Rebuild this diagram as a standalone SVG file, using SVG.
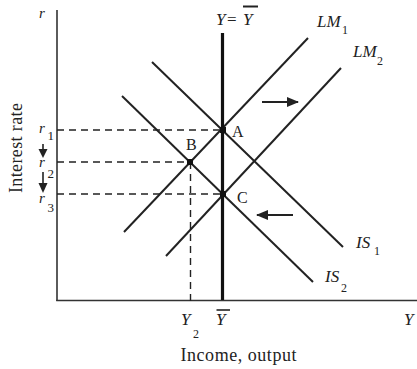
<svg xmlns="http://www.w3.org/2000/svg" width="417" height="369" viewBox="0 0 417 369">
<defs>
<style>
.ax{stroke:#333;stroke-width:1.6;fill:none}
.cv{stroke:#222;stroke-width:2;fill:none}
.dash{stroke:#222;stroke-width:1.4;stroke-dasharray:7 5;fill:none}
.t{font-family:"Liberation Serif",serif;fill:#222}
.i{font-style:italic}
.pt{fill:#111}
.ar{stroke:#222;stroke-width:2}
</style>
<marker id="ah" viewBox="0 0 12 10" refX="11" refY="5" markerWidth="13" markerHeight="10" markerUnits="userSpaceOnUse" orient="auto">
<path d="M0,0 L12,5 L0,10 Z" fill="#222"/>
</marker>
</defs>
<rect width="417" height="369" fill="#fff"/>
<g id="axes">
<line class="ax" x1="57" y1="10" x2="57" y2="301"/>
<line class="ax" x1="56.2" y1="300.5" x2="417" y2="300.5"/>
</g>
<g id="dashed">
<line class="dash" x1="57" y1="130" x2="223" y2="130"/>
<line class="dash" x1="57" y1="162" x2="190" y2="162"/>
<line class="dash" x1="57" y1="194" x2="223" y2="194"/>
<line class="dash" x1="190.5" y1="162" x2="190.5" y2="302"/>
</g>
<g id="curves">
<line id="LM1" class="cv" x1="124" y1="232" x2="308" y2="38"/>
<line id="LM2" class="cv" x1="166" y1="256" x2="341" y2="68"/>
<line id="IS1" class="cv" x1="152" y1="62" x2="343" y2="247"/>
<line id="IS2" class="cv" x1="122" y1="96" x2="313" y2="282"/>
<line id="Ybar" stroke="#111" stroke-width="3.2" x1="222.5" y1="33" x2="222.5" y2="300"/>
</g>
<g id="points">
<rect class="pt" x="220" y="127" width="6" height="6"/>
<rect class="pt" x="187" y="159" width="6" height="6"/>
<rect class="pt" x="220" y="191" width="6" height="6"/>
</g>
<g id="connectors">
<line class="ar" x1="262" y1="102" x2="298" y2="102" marker-end="url(#ah)"/>
<line class="ar" x1="293" y1="215" x2="257" y2="215" marker-end="url(#ah)"/>
<line stroke="#222" stroke-width="1.6" x1="43" y1="144" x2="43" y2="150"/>
<polygon points="38.5,149 47.5,149 43,158" fill="#222"/>
<line stroke="#222" stroke-width="1.6" x1="43" y1="172" x2="43" y2="184"/>
<polygon points="38.5,183 47.5,183 43,193" fill="#222"/>
</g>
<g id="labels">
<text class="t i" x="39" y="18" font-size="15">r</text>
<text class="t" font-size="18" transform="translate(22,148) rotate(-90)" text-anchor="middle" textLength="90">Interest rate</text>
<text class="t i" x="39" y="133" font-size="15">r</text><text class="t" x="47.5" y="140" font-size="13">1</text>
<text class="t i" x="39" y="167" font-size="15">r</text><text class="t" x="47.5" y="178" font-size="13">2</text>
<text class="t i" x="39" y="203" font-size="15">r</text><text class="t" x="47.5" y="212" font-size="13">3</text>
<text class="t i" x="216" y="25" font-size="17">Y</text>
<text class="t" x="227" y="25" font-size="17">=</text>
<text class="t i" x="243" y="25" font-size="17">Y</text>
<line stroke="#222" stroke-width="2" x1="243" y1="6.5" x2="258" y2="6.5"/>
<text class="t i" x="317" y="27" font-size="17">LM</text><text class="t" x="342" y="34" font-size="12">1</text>
<text class="t i" x="353" y="57" font-size="17">LM</text><text class="t" x="377" y="65" font-size="12">2</text>
<text class="t" x="232" y="137" font-size="16">A</text>
<text class="t" x="186" y="150" font-size="16">B</text>
<text class="t" x="237" y="203" font-size="16">C</text>
<text class="t i" x="356" y="248" font-size="17">IS</text><text class="t" x="374" y="255" font-size="12">1</text>
<text class="t i" x="325" y="282" font-size="17">IS</text><text class="t" x="341" y="292" font-size="12">2</text>
<text class="t i" x="181" y="325" font-size="17">Y</text><text class="t" x="193" y="338" font-size="12">2</text>
<text class="t i" x="216" y="325" font-size="17">Y</text>
<line stroke="#222" stroke-width="1.6" x1="216.5" y1="310" x2="230" y2="310"/>
<text class="t i" x="404" y="325" font-size="17">Y</text>
<text class="t" x="238.5" y="361" font-size="18" text-anchor="middle" textLength="116">Income, output</text>
</g>
</svg>
